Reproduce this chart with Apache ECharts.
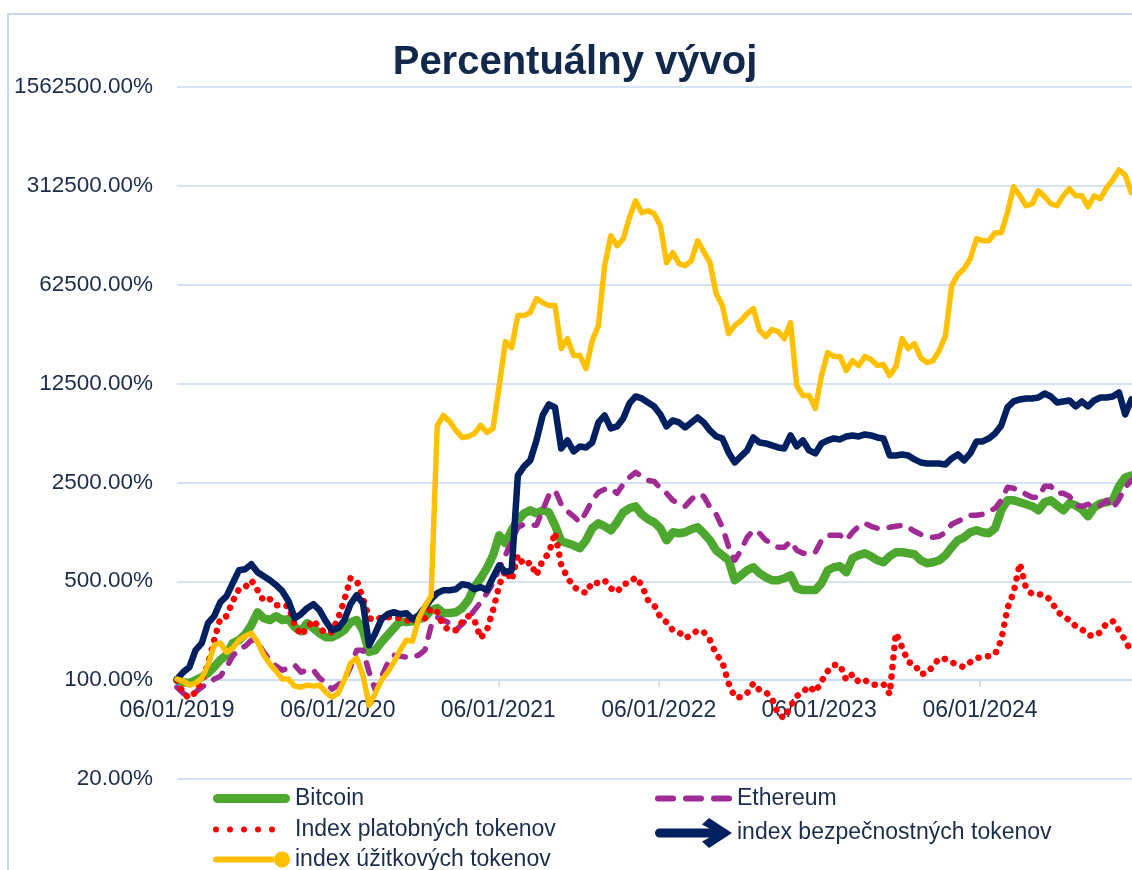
<!DOCTYPE html>
<html>
<head>
<meta charset="utf-8">
<title>Percentuálny vývoj</title>
<script src="https://cdn.jsdelivr.net/npm/echarts@6/dist/echarts.min.js"></script>
<style>
  html, body { margin: 0; padding: 0; background: #fff; }
  #chart { width: 1132px; height: 870px; }
</style>
</head>
<body>
<div id="chart"></div>
<script>
// dátumy: približne dvojtýždenné vzorky od 1. 6. 2019
const DAY = 86400000
const START = Date.UTC(2019, 5, 1)
const STEP_DAYS = 14.1
const dates = []
for (let i = 0; i < 155; i++) dates.push(START + i * STEP_DAYS * DAY)

const xTickDates = [Date.UTC(2019, 5, 1), Date.UTC(2020, 5, 1), Date.UTC(2021, 5, 1),
  Date.UTC(2022, 5, 1), Date.UTC(2023, 5, 1), Date.UTC(2024, 5, 1)]
const yTicks = [20, 100, 500, 2500, 12500, 62500, 312500, 1562500]

// hodnoty v %, 100 = východiskový stav
const bitcoin = [
  100, 96.8, 95.2, 100, 105, 112, 124, 139, 150, 183,
  192, 211, 245, 302, 274, 266, 283, 266, 270, 237,
  222, 253, 233, 215, 201, 201, 211, 226, 257, 266,
  226, 158, 163, 186, 208, 233, 261, 257, 261, 270,
  279, 312, 323, 298, 298, 302, 323, 368, 454, 525,
  618, 764, 1057, 928, 1147, 1349, 1512, 1588, 1512, 1588,
  1537, 1244, 959, 928, 898, 856, 975, 1185, 1285, 1224,
  1147, 1306, 1537, 1640, 1695, 1488, 1372, 1306, 1185, 975,
  1110, 1092, 1110, 1166, 1204, 1092, 975, 828, 764, 704,
  508, 551, 598, 628, 570, 534, 508, 508, 525, 551,
  447, 433, 433, 433, 485, 598, 628, 638, 579, 727,
  764, 789, 751, 704, 681, 751, 802, 802, 789, 776,
  704, 670, 681, 704, 764, 870, 975, 1023, 1110, 1147,
  1110, 1092, 1185, 1588, 1868, 1868, 1809, 1751, 1695, 1588,
  1809, 1868, 1722, 1588, 1779, 1722, 1614, 1440, 1667, 1779,
  1809, 1868, 2346, 2712, 2802
]
const ethereum = [
  89.2, 80.9, 75.8, 82.3, 89.2, 95.2, 101.7, 106.7, 123.6, 147.8,
  165.6, 173.9, 191.8, 186, 157.7, 138.5, 125.6, 117.7, 121.6, 127.7,
  113.9, 117.7, 117.7, 103.3, 96.8, 86.4, 92.2, 100, 123.6, 163,
  163, 113.9, 85, 105, 131.9, 150.2, 147.8, 145.4, 145.4, 150.2,
  163, 240.8, 278.8, 265.5, 252.9, 225.6, 248.8, 274.3, 312.4, 355.9,
  412, 484.8, 617.8, 763.5, 959, 1204, 1264, 1244, 1244, 1588,
  2027, 2198, 1751, 1562, 1440, 1306, 1537, 1868, 2128, 2235,
  2271, 2094, 2424, 2712, 2942, 2756, 2583, 2541, 2271, 2094,
  1868, 1779, 1695, 1899, 2060, 1994, 1667, 1488, 1204, 884,
  704, 828, 1023, 1147, 1092, 975, 928, 870, 870, 959,
  828, 789, 789, 802, 975, 1057, 1057, 1057, 975, 1110,
  1224, 1285, 1224, 1185, 1185, 1204, 1224, 1244, 1204, 1128,
  1074, 1040, 1023, 1040, 1110, 1264, 1328, 1394, 1464, 1464,
  1488, 1562, 1640, 1868, 2308, 2271, 2198, 2060, 1962, 1962,
  2346, 2346, 2094, 2094, 1994, 1722, 1695, 1751, 1667, 1722,
  1868, 1640, 1899, 2308, 2583
]
const platobne = [
  100, 80.9, 74.6, 82.3, 100, 129.8, 191.8, 274.3, 283.4, 361.7,
  439.7, 454.2, 508, 432.6, 361.7, 373.7, 338.9, 338.9, 333.4, 244.8,
  208, 233.1, 265.5, 233.1, 214.9, 218.4, 274.3, 367.6, 525, 508,
  379.8, 274.3, 265.5, 278.8, 278.8, 278.8, 274.3, 265.5, 261.2, 252.9,
  274.3, 322.8, 302.4, 240.8, 225.6, 225.6, 257, 283.4, 265.5, 198.1,
  225.6, 312.4, 469.3, 598, 508, 763.5, 648.8, 681, 551, 704,
  789, 1110, 648.8, 534, 454.2, 432.6, 412, 492.7, 484.8, 508,
  446.9, 418.7, 477, 484.8, 534, 469.3, 367.6, 338.9, 278.8, 257,
  225.6, 218.4, 198.1, 208, 225.6, 218.4, 191.8, 152.7, 134, 95.2,
  75.8, 75.8, 80.9, 95.2, 85, 82.3, 74.6, 57.5, 53.9, 65.5,
  77.1, 82.3, 90.7, 82.3, 98.4, 115.8, 127.7, 127.7, 100, 110.3,
  96.8, 100, 93.7, 92.2, 93.7, 79.6, 214.9, 171.1, 134, 129.8,
  110.3, 112.1, 125.6, 143.1, 140.8, 134, 127.7, 123.6, 134, 143.1,
  145.4, 147.8, 152.7, 191.8, 322.8, 418.7, 670, 446.9, 405.3, 405.3,
  398.8, 367.6, 307.4, 283.4, 265.5, 240.8, 229.3, 208, 204.7, 218.4,
  252.9, 261.2, 225.6, 191.8, 157.7
]
const bezpecnostne = [
  101.7, 113.9, 123.6, 163, 182.6, 252.9, 283.4, 355.9, 392.4, 484.8,
  598, 607.9, 659.4, 579, 542, 508, 469.3, 425.6, 361.7, 274.3,
  292.7, 322.8, 344.5, 312.4, 261.2, 225.6, 233.1, 265.5, 344.5, 398.8,
  350.1, 176.8, 214.9, 269.9, 292.7, 302.4, 292.7, 297.5, 269.9, 288,
  328.1, 373.7, 412, 432.6, 432.6, 439.7, 477, 469.3, 439.7, 454.2,
  432.6, 534, 648.8, 579, 598, 2802, 3244, 3577, 4953, 7439,
  8897, 8473, 4348, 4953, 4141, 4492, 4419, 4794, 6638, 7439,
  6021, 6220, 7084, 9043, 10133, 9809, 9191, 8612, 7561, 6220,
  6858, 6638, 6119, 6638, 7201, 6638, 5828, 5286, 5116, 4074,
  3462, 3817, 4209, 5200, 4794, 4717, 4566, 4419, 4348, 5372,
  4492, 4953, 4209, 4008, 4717, 4953, 5116, 5034, 5286, 5372,
  5286, 5461, 5372, 5200, 5116, 3880, 3880, 3944, 3880, 3635,
  3462, 3406, 3406, 3406, 3351, 3695, 3944, 3577, 4008, 4873,
  4873, 5116, 5550, 6322, 8473, 9342, 9651, 9809, 9809, 9970,
  10640, 10133, 9191, 9342, 9495, 8612, 9342, 8612, 9495, 9970,
  9970, 10133, 10815, 7561, 9651
]
const uzitkove = [
  101.7, 98.4, 92.2, 95.2, 103.3, 127.7, 176.8, 182.6, 157.7, 168.4,
  191.8, 204.7, 214.9, 185.6, 150.2, 129.8, 115.8, 101.7, 101.7, 90.7,
  89.2, 92.2, 90.7, 92.2, 82.3, 75.8, 80.9, 100, 131.9, 143.1,
  108.5, 66.6, 80.9, 100, 113.9, 134, 163, 191.8, 188.7, 274.3,
  333.4, 392.4, 6322, 7439, 6747, 5828, 5200, 5286, 5550, 6322,
  5641, 6021, 12120, 24760, 22460, 37800, 37800, 39690, 49850, 46710,
  44480, 44480, 22100, 26000, 19720, 19720, 15960, 25170, 32130, 85150,
  138750, 117910, 132140, 185960, 245230, 201730, 208400, 198470, 163270, 89410,
  105220, 87970, 85150, 92380, 127910, 106940, 89410, 54070, 44480, 28200,
  32130, 34850, 39050, 42360, 29620, 26860, 30100, 29140, 26000, 33730,
  12120, 10300, 10300, 8336, 14240, 20700, 19400, 19400, 15450, 18180,
  16760, 19400, 18480, 16760, 17030, 14240, 16490, 26000, 22100, 23970,
  19090, 17590, 18180, 21390, 27300, 61590, 73540, 81090, 95430, 132140,
  127910, 127910, 145690, 145690, 201730, 307960, 266010, 226060, 233540, 288550,
  261710, 233540, 226060, 266010, 298090, 266010, 266010, 222410, 266010, 253330,
  302990, 344530, 405470, 373750, 279310
]

const FONT = "'Liberation Sans', Arial, sans-serif"
const TEXT = '#1b2d4b'
const GRID = '#c9daf0'

// ikony legendy
const ICON_LINE = 'path://M4.5,0L72.5,0A4.5,4.5,0,0,1,72.5,9L4.5,9A4.5,4.5,0,0,1,4.5,0Z'
const ICON_DASH = 'path://M3,0L18,0A3,3,0,0,1,18,6L3,6A3,3,0,0,1,3,0Z' +
  'M31,0L46,0A3,3,0,0,1,46,6L31,6A3,3,0,0,1,31,0Z' +
  'M59,0L74,0A3,3,0,0,1,74,6L59,6A3,3,0,0,1,59,0Z'
const ICON_DOTS = 'path://M0,3A3,3,0,1,1,6,3A3,3,0,1,1,0,3Z' +
  'M14,3A3,3,0,1,1,20,3A3,3,0,1,1,14,3Z' +
  'M28,3A3,3,0,1,1,34,3A3,3,0,1,1,28,3Z' +
  'M42,3A3,3,0,1,1,48,3A3,3,0,1,1,42,3Z' +
  'M56,3A3,3,0,1,1,62,3A3,3,0,1,1,56,3Z M77,3L77,3.01'
const ICON_ARROW = 'path://M4.5,10.5L66,10.5L66,19.5L4.5,19.5A4.5,4.5,0,0,1,4.5,10.5Z M54,0L77,15L54,30L47,23.5L63,15L47,6.5Z'
const ICON_PIN = 'path://M3,4.5L61,4.5L61,10.5L3,10.5A3,3,0,0,1,3,4.5Z M61,7.5A8,8,0,1,1,77,7.5A8,8,0,1,1,61,7.5Z'

const pad = n => (n < 10 ? '0' : '') + n
const fmtDate = v => {
  const d = new Date(v)
  return pad(d.getUTCMonth() + 1) + '/' + pad(d.getUTCDate()) + '/' + d.getUTCFullYear()
}

const toData = arr => dates.map((t, i) => [t, arr[i]])

const legendBase = {
  orient: 'vertical',
  top: 787,
  padding: 0,
  itemGap: 8,
  itemWidth: 77,
  itemHeight: 30,
  selectedMode: false,
  itemStyle: { borderWidth: 0 },
  textStyle: { fontSize: 23, color: TEXT, fontFamily: FONT }
}

const chart = echarts.init(document.getElementById('chart'), null, { renderer: 'canvas' })

chart.setOption({
  animation: false,
  backgroundColor: '#fff',
  title: {
    text: 'Percentuálny vývoj',
    left: 575,
    top: 43,
    textAlign: 'center',
    padding: 0,
    textStyle: { fontSize: 40, fontWeight: 'bold', color: '#13294b', fontFamily: FONT }
  },
  graphic: [{
    type: 'rect',
    shape: { x: 8, y: 14, width: 1200, height: 900 },
    style: { fill: 'none', stroke: GRID, lineWidth: 2 },
    z: -10,
    silent: true
  }],
  legend: [
    Object.assign({}, legendBase, {
      left: 213,
      data: [
        { name: 'Bitcoin', icon: ICON_LINE },
        { name: 'Index platobných tokenov', icon: ICON_DOTS }
      ]
    }),
    Object.assign({}, legendBase, {
      left: 655,
      data: [
        { name: 'Ethereum', icon: ICON_DASH },
        { name: 'index bezpečnostných tokenov', icon: ICON_ARROW }
      ]
    }),
    Object.assign({}, legendBase, {
      left: 213,
      top: 848,
      data: [
        { name: 'index úžitkových tokenov', icon: ICON_PIN }
      ]
    })
  ],
  grid: { left: 177, right: 0, top: 87, bottom: 91, outerBoundsMode: 'none' },
  xAxis: {
    type: 'value',
    min: START,
    max: START + 2172.8 * DAY,
    position: 'bottom',
    offset: -99,
    axisLine: { show: true, lineStyle: { color: GRID, width: 1.5 } },
    axisTick: { show: true, length: 7, customValues: xTickDates, lineStyle: { color: GRID, width: 1.5 } },
    axisLabel: {
      customValues: xTickDates,
      formatter: fmtDate,
      fontSize: 23,
      color: TEXT,
      fontFamily: FONT,
      margin: 19
    },
    splitLine: { show: false },
    minorTick: { show: false }
  },
  yAxis: {
    type: 'log',
    logBase: 5,
    min: 20,
    max: 1562500,
    axisLine: { show: false },
    axisTick: { show: false, customValues: yTicks },
    axisLabel: {
      customValues: yTicks,
      formatter: v => Math.round(v).toFixed(2) + '%',
      fontSize: 22.5,
      color: TEXT,
      fontFamily: FONT,
      margin: 24
    },
    splitLine: { show: true, lineStyle: { color: GRID, width: 1.5 } }
  },
  series: [
    {
      name: 'Bitcoin',
      type: 'line',
      data: toData(bitcoin),
      symbol: 'none',
      color: '#4ea72e',
      lineStyle: { width: 8.5, color: '#4ea72e', cap: 'round', join: 'round' }
    },
    {
      name: 'Ethereum',
      type: 'line',
      data: toData(ethereum),
      symbol: 'none',
      color: '#a02b93',
      lineStyle: { width: 5.5, color: '#a02b93', type: [11, 12], cap: 'round', join: 'round' }
    },
    {
      name: 'Index platobných tokenov',
      type: 'line',
      data: toData(platobne),
      symbol: 'none',
      color: '#ff0000',
      lineStyle: { width: 6.5, color: '#ff0000', type: [0.1, 9.5], cap: 'round', join: 'round' }
    },
    {
      name: 'index bezpečnostných tokenov',
      type: 'line',
      data: toData(bezpecnostne),
      symbol: 'none',
      color: '#002060',
      lineStyle: { width: 6.5, color: '#002060', cap: 'round', join: 'round' }
    },
    {
      name: 'index úžitkových tokenov',
      type: 'line',
      data: toData(uzitkove),
      symbol: 'none',
      color: '#ffc000',
      lineStyle: { width: 5.5, color: '#ffc000', cap: 'round', join: 'round' }
    }
  ]
})
</script>
</body>
</html>
